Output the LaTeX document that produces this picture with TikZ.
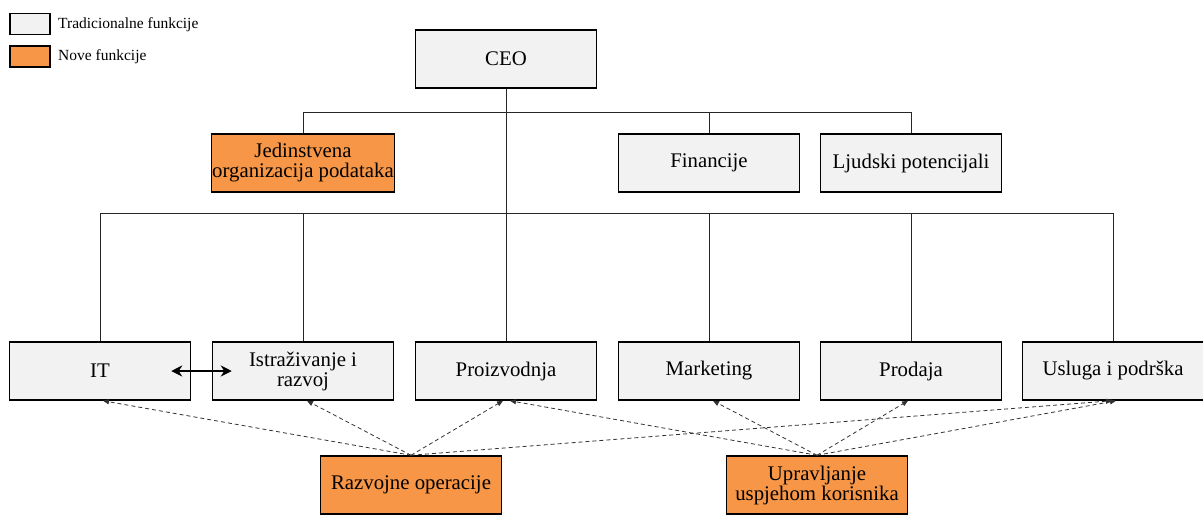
\documentclass[tikz,border=0pt]{standalone}
\usepackage{fontspec}
\setmainfont{Liberation Serif}
\usetikzlibrary{arrows.meta}
\definecolor{boxgray}{HTML}{F2F2F2}
\definecolor{boxorange}{HTML}{F79646}
\tikzset{
  unit/.style={draw=black, line width=1.5pt, minimum width=181pt, minimum height=58pt, inner sep=0.5pt, align=center, font=\fontsize{20.8}{22}\selectfont},
  trad/.style={unit, fill=boxgray},
  nova/.style={unit, fill=boxorange},
  legbox/.style={draw=black, line width=1.6pt, minimum width=40pt, minimum height=21pt, inner sep=0pt},
  legtext/.style={anchor=west, inner sep=0pt, font=\fontsize{15.5}{17}\selectfont},
  tree/.style={draw=black!85, line width=0.8pt},
  dep/.style={draw=black!80, line width=0.8pt, dashed, dash pattern=on 4pt off 3pt, -{Triangle[length=6pt,width=5pt]}},
  link/.style={draw=black, line width=2.6pt, {Stealth[length=11pt,width=11pt]}-{Stealth[length=11pt,width=11pt]}}
}
\begin{document}
\begin{tikzpicture}[x=1pt,y=-1pt]
\useasboundingbox (0,0) rectangle (1203,523);
% legend
\node[legbox, fill=boxgray] (lg1) at (30,24) {};
\node[legbox, fill=boxorange] (lg2) at (30,56.5) {};
\node[legtext] (lt1) at (58,25) {Tradicionalne funkcije};
\node[legtext] (lt2) at (58,57) {Nove funkcije};
% nodes
\node[trad] (ceo) at (506,59) {CEO};
\node[nova] (jed) at (303,163) {Jedinstvena\\[-2pt]organizacija podataka};
\node[trad] (fin) at (709,163) {Financije};
\node[trad] (ljud) at (911,163) {Ljudski potencijali};
\node[trad] (it) at (100,371) {IT};
\node[trad] (ist) at (303,371) {Istraživanje i\\[-2pt]razvoj};
\node[trad] (pro) at (506,371) {Proizvodnja};
\node[trad] (mar) at (709,371) {Marketing};
\node[trad] (prd) at (911,371) {Prodaja};
\node[trad] (usl) at (1113,371) {Usluga i podrška};
\node[nova] (raz) at (411,485) {Razvojne operacije};
\node[nova] (upr) at (817,485) {Upravljanje\\[-2pt]uspjehom korisnika};
% tree
\coordinate (bus1) at (506,112);
\coordinate (bus2) at (506,213);
\draw[tree] (ceo.south) -- (pro.north);
\draw[tree] (jed.north |- bus1) -- (ljud.north |- bus1);
\foreach \n in {jed,fin,ljud} \draw[tree] (\n.north |- bus1) -- (\n.north);
\draw[tree] (it.north |- bus2) -- (usl.north |- bus2);
\foreach \n in {it,ist,mar,prd,usl} \draw[tree] (\n.north |- bus2) -- (\n.north);
% double arrow
\draw[link] ([xshift=-20pt]it.east) -- ([xshift=20pt]ist.west);
% dashed dependencies
\draw[dep] (raz.north) -- ([xshift=3pt]it.south);
\draw[dep] (raz.north) -- ([xshift=4pt]ist.south);
\draw[dep] (raz.north) -- ([xshift=-3pt]pro.south);
\draw[dep] (raz.north) -- ([xshift=-1pt]usl.south);
\draw[dep] (upr.north) -- ([xshift=4pt]mar.south);
\draw[dep] (upr.north) -- ([xshift=-3pt]prd.south);
\draw[dep] (upr.north) -- ([xshift=4pt]pro.south);
\draw[dep] (upr.north) -- ([xshift=3pt]usl.south);
\end{tikzpicture}
\end{document}
